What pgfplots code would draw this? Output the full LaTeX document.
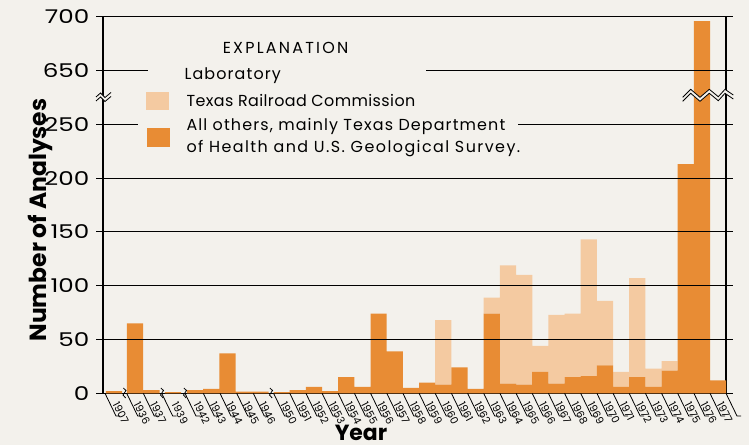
\documentclass[border=0pt]{standalone}
\usepackage{pgfplots}
\usepackage{pgfplotstable}
\pgfplotsset{compat=1.18}
\usepackage{fontspec}
\setmainfont{Poppins}
\newfontfamily\legfont[LetterSpace=7]{Poppins}
\newfontfamily\legfontb[LetterSpace=2.5]{Poppins}
\newfontfamily\legfontc[LetterSpace=9]{Poppins}
\newfontfamily\capfont[LetterSpace=14]{Poppins}
\newfontfamily\tickfont[FakeStretch=1.3]{Poppins}
\definecolor{bg}{RGB}{243,241,236}
\definecolor{darkor}{RGB}{232,140,52}
\definecolor{lightor}{RGB}{244,202,161}

% year, x position (slot centre), All others (dark), Texas Railroad Commission (light)
\pgfplotstableread{
year xpos dark light
1907 114   2    0
1936 135   65   0
1937 151.5 3    0
1939 173   1    0
1942 195   3    0
1943 211.2 4    0
1944 227.5 37   0
1945 244   1.5  0
1946 260.5 1.5  0
1950 281.7 1    0
1951 297.8 3    0
1952 314.0 6    0
1953 330.1 2    0
1954 346.3 15   0
1955 362.5 6    0
1956 378.6 74   0
1957 394.8 39   0
1958 411.0 5    0
1959 427.1 10   0
1960 443.3 8    60
1961 459.5 24   0
1962 475.6 4    0
1963 491.8 74   15
1964 508.0 9    110
1965 524.2 8    102
1966 540.3 20   24
1967 556.5 9    64
1968 572.6 15   59
1969 588.8 16   127
1970 605.0 26   60
1971 621.1 6    14
1972 637.3 15   92
1973 653.5 6    17
1974 669.6 21   9
1975 685.8 213  0
1976 702.0 696  0
1977 718.1 12   0
}\data

\begin{document}
\begin{tikzpicture}
\fill[bg] (0,0) rectangle (749bp,445bp);
\useasboundingbox (0,0) rectangle (749bp,445bp);
\begin{axis}[
  at={(103bp,51.7bp)}, anchor=south west,
  scale only axis, width=623bp, height=376.6bp,
  xmin=103, xmax=726, ymin=0, ymax=350,
  ybar stacked, bar width=16.16,
  y filter/.expression={y>500 ? y-350 : y},
  axis line style={line width=1.1bp, black},
  ytick={0,50,100,150,200,250,300,350},
  yticklabels={0,50,100,150,200,250,650,700},
  tick align=outside,
  ytick style={line width=1.1bp, black},
  major tick length=6.5bp,
  xtick=data,
  xticklabels from table={\data}{year},
  xtick style={draw=none},
  /pgf/number format/assume math mode=true,
  yticklabel style={font=\fontsize{19}{19}\selectfont\tickfont, inner sep=0pt, xshift=-7bp},
  xticklabel style={xshift=1.8bp, rotate=-63, anchor=west, inner sep=0pt, font=\fontsize{10.5}{10.5}\selectfont},
  xticklabel shift=3bp,
]
\addplot[fill=darkor, draw=none] table[x=xpos, y=dark]{\data};
\addplot[fill=lightor, draw=none] table[x=xpos, y=light]{\data};
\end{axis}
\begin{scope}[x=1bp, y=1bp, line width=1.1bp]
  % grid lines (drawn over the bars)
  \foreach \yy in {105.5,159.3,213.1,266.9} \draw (103,\yy) -- (726,\yy);
  \draw (103,320.7) -- (138,320.7);
  \draw (518,320.7) -- (726,320.7);
  \draw (103,374.5) -- (148,374.5);
  \draw (426,374.5) -- (726,374.5);
  % label separators
  \foreach \s in {105,126.7,143.3,161.7,185,203.3,220,236.7,253.3,273.6,289.8,305.9,322.1,338.2,354.4,370.6,386.8,402.9,419.1,435.2,451.4,467.6,483.7,499.9,516.1,532.2,548.4,564.6,580.7,596.9,613.1,629.2,645.4,661.6,677.7,693.9,710,726}
    \draw[line width=0.8bp] (\s,51.7) -- (\s+11,29) -- (\s+15,29);
  % break marks on the x axis
  \foreach \s in {124.5,162,185,271}
    \draw[line width=0.8bp, fill=none] (\s-1.2,57) -- (\s+1.5,54.5) -- (\s-1.5,50) -- (\s+1.2,47);
  % y-axis break
  \fill[bg] (96,348) -- (100.5,352) -- (105,347.5) -- (111,352.5) -- (111,348.5) -- (105,343.5) -- (100.5,348) -- (96,344) -- cycle;
  \draw[line width=0.8bp] (96,348) -- (100.5,352) -- (105,347.5) -- (111,352.5);
  \draw[line width=0.8bp] (96,344) -- (100.5,348) -- (105,343.5) -- (111,348.5);
  % break across the 1976 bar
  \fill[bg] (682.7,347.7) -- (690.7,355.7) -- (700,347.7) -- (709.3,355.7) -- (718.3,348.3) -- (725,355.7) -- (733.3,350)
        -- (733.3,346) -- (725,351.7) -- (718.3,344.3) -- (709.3,351.7) -- (700,343.7) -- (690.7,351.7) -- (682.7,343.7) -- cycle;
  \draw[line width=0.8bp] (682.7,347.7) -- (690.7,355.7) -- (700,347.7) -- (709.3,355.7) -- (718.3,348.3) -- (725,355.7) -- (733.3,350);
  \draw[line width=0.8bp] (682.7,343.7) -- (690.7,351.7) -- (700,343.7) -- (709.3,351.7) -- (718.3,344.3) -- (725,351.7) -- (733.3,346);
  % explanation (legend)
  \node[font=\fontsize{16}{16}\selectfont\capfont] at (285.5,397) {EXPLANATION};
  \node[anchor=west, inner sep=0pt, font=\fontsize{16}{16}\selectfont\legfont] at (184,369) {Laboratory};
  \fill[lightor] (146,335) rectangle (169,353);
  \node[anchor=west, inner sep=0pt, font=\fontsize{16}{16}\selectfont\legfontb] at (186,344) {Texas Railroad Commission};
  \fill[darkor] (147,298) rectangle (170,317);
  \node[anchor=west, inner sep=0pt, font=\fontsize{16}{16}\selectfont\legfont] at (186,318) {All others, mainly Texas Department};
  \node[anchor=west, inner sep=0pt, font=\fontsize{16}{16}\selectfont\legfontc] at (186,296) {of Health and U.S. Geological Survey.};
  % axis titles
  \node[rotate=90, font=\fontsize{23.5}{23.5}\selectfont\bfseries] at (40,225) {Number of Analyses};
  \node[inner sep=0pt, font=\fontsize{22}{22}\selectfont\bfseries] at (361,12) {Year};
\end{scope}
\end{tikzpicture}
\end{document}
